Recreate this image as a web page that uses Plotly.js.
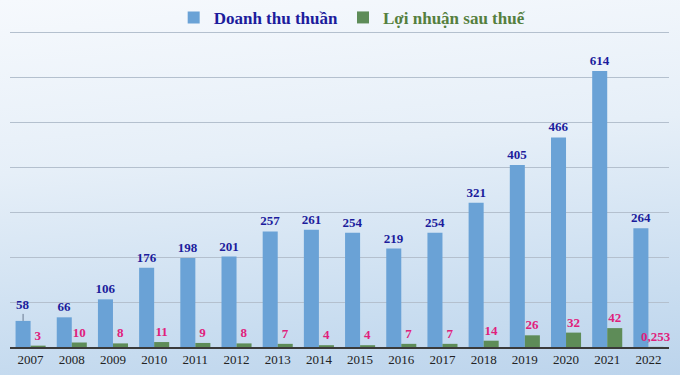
<!DOCTYPE html>
<html>
<head>
<meta charset="utf-8">
<script src="https://cdn.plot.ly/plotly-3.0.1.min.js"></script>
<style>
  html, body { margin: 0; padding: 0; }
  body {
    width: 680px; height: 375px; overflow: hidden;
    background: linear-gradient(175deg, #f6f9fd 0%, #e6eff8 40%, #c9ddf0 80%, #bcd4ec 100%);
  }
  #chart { width: 680px; height: 375px; }
</style>
</head>
<body>
<div id="chart"></div>
<script>
const years = ['2007','2008','2009','2010','2011','2012','2013','2014','2015','2016','2017','2018','2019','2020','2021','2022'];
const doanhThu = [58, 66, 106, 176, 198, 201, 257, 261, 254, 219, 254, 321, 405, 466, 614, 264];
const loiNhuan = [3, 10, 8, 11, 9, 8, 7, 4, 4, 7, 7, 14, 26, 32, 42, 0.253];

const serif = '"Liberation Serif", "Times New Roman", serif';

const blueText = doanhThu.map((v, i) => i === 0 ? '' : '<b>' + v + '</b>');
const greenText = loiNhuan.map(v => '<b>' + String(v).replace('.', ',') + '</b>');

const traces = [
  {
    type: 'bar', x: years, y: doanhThu,
    name: '<span style="color:#1c1c9c"><b>Doanh thu thuần</b></span>',
    marker: { color: '#6aa2d6' },
    text: blueText, textposition: 'outside', cliponaxis: false, constraintext: 'none',
    textfont: { family: serif, size: 13, color: '#1c1c9c' }
  },
  {
    type: 'bar', x: years, y: loiNhuan,
    name: '<span style="color:#557f3e"><b>Lợi nhuận sau thuế</b></span>',
    marker: { color: '#5e8c58' },
    text: greenText, textposition: 'outside', cliponaxis: false, constraintext: 'none',
    textfont: { family: serif, size: 13, color: '#e0207c' }
  }
];

const layout = {
  width: 680, height: 375,
  margin: { l: 10, r: 11, t: 30, b: 28, autoexpand: false },
  paper_bgcolor: 'rgba(0,0,0,0)',
  plot_bgcolor: 'rgba(0,0,0,0)',
  barmode: 'group',
  bargap: 0.27,
  bargroupgap: 0,
  showlegend: true,
  legend: {
    orientation: 'h', x: 0.52, xanchor: 'center', y: 1.095, yanchor: 'top',
    font: { family: serif, size: 17 },
    bgcolor: 'rgba(0,0,0,0)', itemwidth: 30
  },
  xaxis: {
    type: 'category',
    tickfont: { family: serif, size: 13, color: '#222' },
    showgrid: false, ticks: '', showline: true, linecolor: '#3a3a3a', linewidth: 1.5
  },
  yaxis: {
    range: [0, 705], tick0: 0, dtick: 100, showticklabels: false,
    showgrid: true, gridcolor: '#b4c0ce', gridwidth: 1,
    zeroline: false, showline: false, ticks: ''
  },
  annotations: [{
    x: 0, y: doanhThu[0], xref: 'x', yref: 'y',
    text: '<b>' + doanhThu[0] + '</b>',
    showarrow: true, arrowhead: 0, arrowwidth: 0.8, arrowcolor: '#50607a',
    ax: 0, ay: -16, xshift: -7.5,
    font: { family: serif, size: 13, color: '#1c1c9c' }
  }]
};

Plotly.newPlot('chart', traces, layout, { displayModeBar: false, staticPlot: true });
</script>
</body>
</html>
